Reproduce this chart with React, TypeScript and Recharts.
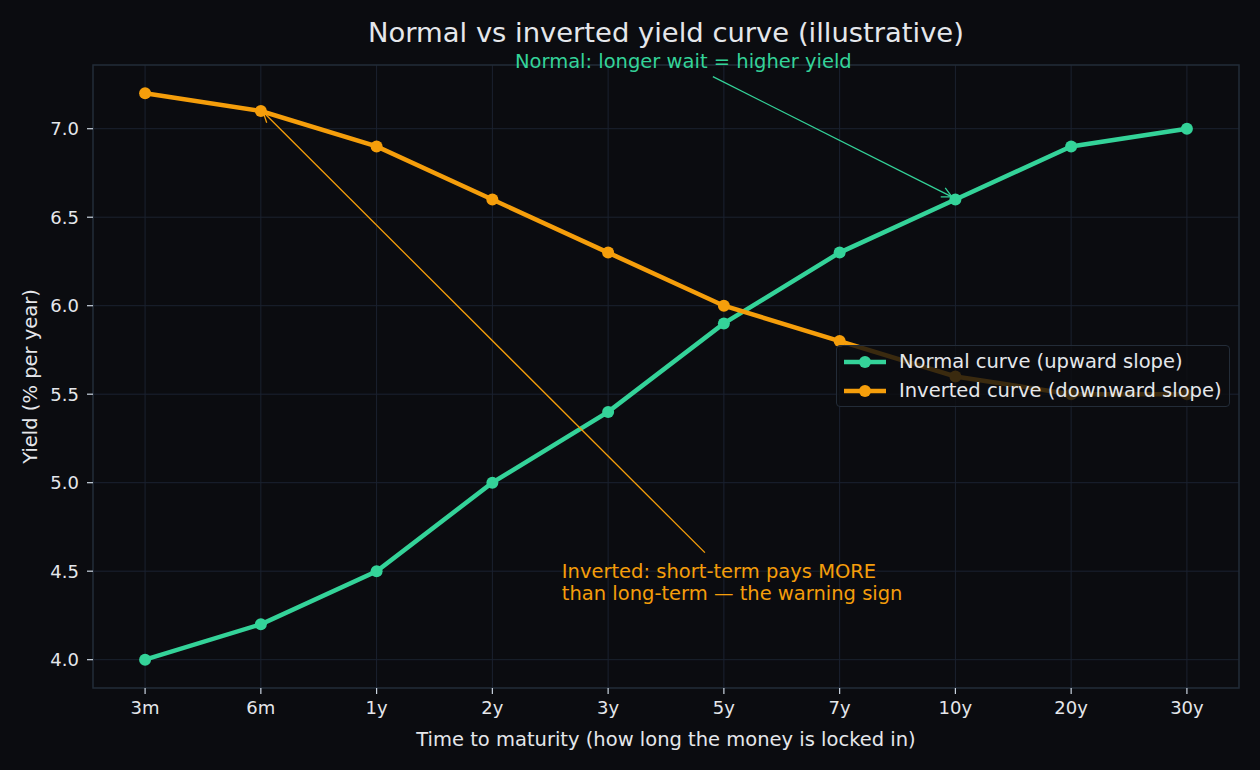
import React from 'react';
import { LineChart, Line, XAxis, YAxis, CartesianGrid, ReferenceLine, ReferenceArea, ReferenceDot } from 'recharts';

const maturities = ['3m', '6m', '1y', '2y', '3y', '5y', '7y', '10y', '20y', '30y'];
const normalYields = [4.0, 4.2, 4.5, 5.0, 5.4, 5.9, 6.3, 6.6, 6.9, 7.0];
const invertedYields = [7.2, 7.1, 6.9, 6.6, 6.3, 6.0, 5.8, 5.6, 5.5, 5.5];
const yTicks = [4.0, 4.5, 5.0, 5.5, 6.0, 6.5, 7.0];

const GREEN = '#34d399';
const ORANGE = '#f59e0b';
const BG = '#0b0c10';
const GRID = '#1b2230';
const SPINE = '#232c38';
const TEXT = '#e5e7eb';
const FONT = '"DejaVu Sans", sans-serif';

const data = maturities.map((m, i) => ({
  idx: i,
  name: m,
  normal: normalYields[i],
  inverted: invertedYields[i],
}));

const legendItems = [
  { label: 'Normal curve (upward slope)', color: GREEN },
  { label: 'Inverted curve (downward slope)', color: ORANGE },
];

const LegendBox = () => (
  <div
    style={{
      position: 'absolute',
      left: 836,
      top: 345,
      background: 'rgba(11,12,16,0.8)',
      border: `1.5px solid ${SPINE}`,
      borderRadius: 4,
      padding: '1px 7px 1px 7px',
      fontFamily: FONT,
      fontSize: 19.5,
      color: TEXT,
      lineHeight: '29px',
    }}
  >
    {legendItems.map((it) => (
      <div key={it.label} style={{ display: 'flex', alignItems: 'center', whiteSpace: 'nowrap' }}>
        <svg width={42} height={14} style={{ marginRight: 13 }}>
          <line x1={0} y1={7} x2={42} y2={7} stroke={it.color} strokeWidth={4.5} />
          <circle cx={21} cy={7} r={6} fill={it.color} />
        </svg>
        {it.label}
      </div>
    ))}
  </div>
);

const NoteText = ({ cx, cy, lines, color, anchor }: any) => (
  <text x={cx} y={cy} fill={color} fontFamily={FONT} fontSize={19.5} textAnchor={anchor}>
    {lines.map((l: string, i: number) => (
      <tspan key={i} x={cx} dy={i === 0 ? 0 : 22}>
        {l}
      </tspan>
    ))}
  </text>
);

export default function App() {
  return (
    <div style={{ position: 'fixed', left: 0, top: 0, width: 1260, height: 770, background: BG }}>
      <svg width={0} height={0} style={{ position: 'absolute' }}>
        <defs>
          <marker id="arrGreen" viewBox="0 0 12 12" refX={11} refY={6} markerWidth={12} markerHeight={12} markerUnits="userSpaceOnUse" orient="auto">
            <polyline points="1,1 11,6 1,11" fill="none" stroke={GREEN} strokeWidth={1.3} />
          </marker>
          <marker id="arrOrange" viewBox="0 0 12 12" refX={11} refY={6} markerWidth={12} markerHeight={12} markerUnits="userSpaceOnUse" orient="auto">
            <polyline points="1,1 11,6 1,11" fill="none" stroke={ORANGE} strokeWidth={1.3} />
          </marker>
        </defs>
      </svg>
      <div
        style={{
          position: 'absolute',
          top: 17,
          left: 93,
          width: 1146,
          textAlign: 'center',
          fontFamily: FONT,
          fontSize: 27.4,
          color: TEXT,
        }}
      >
        Normal vs inverted yield curve (illustrative)
      </div>
      <LineChart width={1260} height={770} data={data} margin={{ top: 65, right: 21, left: 23, bottom: 24 }}>
        <CartesianGrid stroke={GRID} strokeWidth={1} verticalValues={maturities.map((_, i) => i)} horizontalValues={yTicks} />
        <ReferenceArea x1={-0.45} x2={9.45} y1={3.84} y2={7.36} fill="none" stroke={SPINE} strokeWidth={1.5} ifOverflow="visible" />
        <XAxis
          dataKey="idx"
          type="number"
          domain={[-0.45, 9.45]}
          ticks={maturities.map((_, i) => i)}
          tickFormatter={(v: number) => maturities[v]}
          allowDataOverflow
          axisLine={false}
          tickLine={{ stroke: '#cbd5e1', strokeWidth: 1.2 }}
          tickSize={6}
          tickMargin={7}
          tick={{ fill: TEXT, fontSize: 18, fontFamily: FONT }}
          height={58}
          label={{ value: 'Time to maturity (how long the money is locked in)', position: 'insideBottom', offset: 0, fill: TEXT, fontSize: 19.5, fontFamily: FONT }}
        />
        <YAxis
          type="number"
          domain={[3.84, 7.36]}
          ticks={yTicks}
          allowDataOverflow
          tickFormatter={(v: number) => v.toFixed(1)}
          axisLine={false}
          tickLine={{ stroke: '#cbd5e1', strokeWidth: 1.2 }}
          tickSize={6}
          tickMargin={8}
          tick={{ fill: TEXT, fontSize: 18, fontFamily: FONT }}
          width={70}
          label={{ value: 'Yield (% per year)', angle: -90, position: 'insideLeft', offset: 7, fill: TEXT, fontSize: 19.5, fontFamily: FONT, style: { textAnchor: 'middle' } }}
        />
        <Line dataKey="normal" stroke={GREEN} strokeWidth={4.5} dot={{ r: 6, fill: GREEN, stroke: GREEN, strokeWidth: 0 }} isAnimationActive={false} />
        <Line dataKey="inverted" stroke={ORANGE} strokeWidth={4.5} dot={{ r: 6, fill: ORANGE, stroke: ORANGE, strokeWidth: 0 }} isAnimationActive={false} />
        <ReferenceLine
          segment={[{ x: 4.905, y: 7.294 }, { x: 6.97, y: 6.615 }]}
          stroke={GREEN}
          strokeWidth={1.3}
          markerEnd="url(#arrGreen)"
          ifOverflow="visible"
        />
        <ReferenceLine
          segment={[{ x: 4.836, y: 4.605 }, { x: 1.02, y: 7.094 }]}
          stroke={ORANGE}
          strokeWidth={1.3}
          markerEnd="url(#arrOrange)"
          ifOverflow="visible"
        />
        <ReferenceDot
          x={4.65}
          y={7.36}
          ifOverflow="visible"
          shape={(p: any) => <NoteText cx={p.cx} cy={p.cy + 3} lines={['Normal: longer wait = higher yield']} color={GREEN} anchor="middle" />}
        />
        <ReferenceDot
          x={3.6}
          y={4.5}
          ifOverflow="visible"
          shape={(p: any) => <NoteText cx={p.cx} cy={p.cy + 7} lines={['Inverted: short-term pays MORE', 'than long-term — the warning sign']} color={ORANGE} anchor="start" />}
        />
      </LineChart>
      <LegendBox />
    </div>
  );
}
